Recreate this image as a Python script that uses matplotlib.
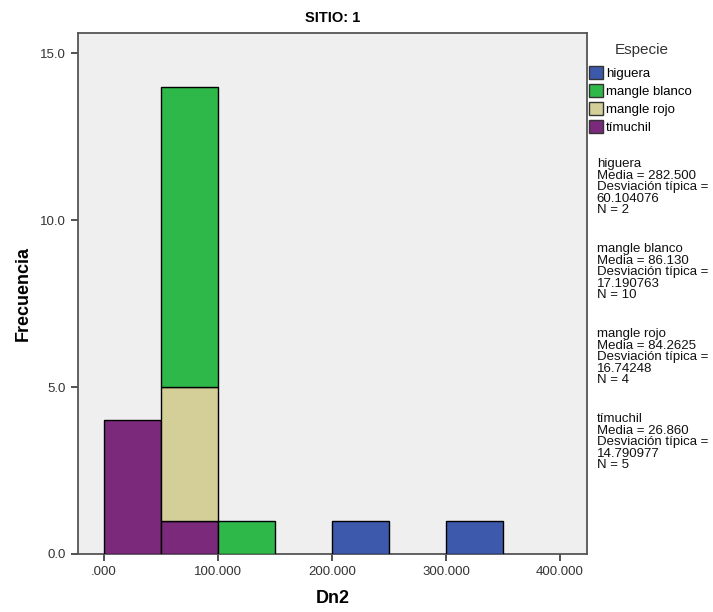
import numpy as np
import matplotlib
matplotlib.use('Agg')
import matplotlib.pyplot as plt
from matplotlib.patches import Patch

plt.rcParams['font.family'] = ['Liberation Sans', 'DejaVu Sans']

# datos del histograma (ancho de clase 50)
bin_left = [0, 50, 100, 150, 200, 250, 300]
bin_width = 50
especies = ['tímuchil', 'mangle rojo', 'mangle blanco', 'higuera']
conteos = {
    'tímuchil':      [4, 1, 0, 0, 0, 0, 0],
    'mangle rojo':   [0, 4, 0, 0, 0, 0, 0],
    'mangle blanco': [0, 9, 1, 0, 0, 0, 0],
    'higuera':       [0, 0, 0, 0, 1, 0, 1],
}
colores = {
    'higuera': '#3d59ab',
    'mangle blanco': '#2fb84a',
    'mangle rojo': '#d4cf99',
    'tímuchil': '#7b2a7b',
}
leyenda_orden = ['higuera', 'mangle blanco', 'mangle rojo', 'tímuchil']
estadisticos = [
    ('higuera', '282.500', '60.104076', 2),
    ('mangle blanco', '86.130', '17.190763', 10),
    ('mangle rojo', '84.2625', '16.74248', 4),
    ('tímuchil', '26.860', '14.790977', 5),
]

fig = plt.figure(figsize=(7.13, 6.12), dpi=100)
ax = fig.add_axes([0.1094, 0.0948, 0.714, 0.851])
ax.set_facecolor('#efefef')

bottom = np.zeros(len(bin_left))
for esp in especies:
    vals = np.array(conteos[esp])
    mask = vals > 0
    ax.bar(np.array(bin_left)[mask], vals[mask], width=bin_width, bottom=bottom[mask],
           align='edge', color=colores[esp], edgecolor='black', linewidth=1.0, zorder=3)
    bottom += vals

ax.set_xlim(-22.8, 423.7)
ax.set_ylim(0, 15.6)
ax.set_xticks([0, 100, 200, 300, 400])
ax.set_xticklabels(['.000', '100.000', '200.000', '300.000', '400.000'])
ax.set_yticks([0, 5, 10, 15])
ax.set_yticklabels(['0.0', '5.0', '10.0', '15.0'])
ax.tick_params(axis='both', labelsize=9.5, colors='#333333', length=5, width=1.2, direction='out')
ax.tick_params(top=False, right=False)
for s in ax.spines.values():
    s.set_color('#555555')
    s.set_linewidth(1.3)

ax.set_xlabel('Dn2', fontsize=13, fontweight='bold', labelpad=9)
ax.set_ylabel('Frecuencia', fontsize=13, fontweight='bold', labelpad=6)
ax.set_title('SITIO: 1', fontsize=10.5, fontweight='bold', pad=8)

# leyenda
fig.text(642 / 713, 1 - 50 / 612, 'Especie', fontsize=11, color='#333333',
         ha='center', va='center')
handles = [Patch(facecolor=colores[e], edgecolor='#333333', label=e) for e in leyenda_orden]
leg = fig.legend(handles=handles, loc='upper left',
                 bbox_to_anchor=(0.826, 1 - 66 / 612), frameon=False, fontsize=9.5,
                 handlelength=1.1, handleheight=1.15,
                 handletextpad=0.2, labelspacing=0.3, borderaxespad=0,
                 borderpad=0)

# bloques de estadísticos
y_px = [158, 243, 328, 413]
for (n, m, d, k), yp in zip(estadisticos, y_px):
    fig.text(0.837, 1 - yp / 612, f'{n}\nMedia = {m}\nDesviación típica =\n{d}\nN = {k}',
             fontsize=9.5, va='top', ha='left', linespacing=0.95, color='#111111')

fig.savefig('out.png', dpi=100)
